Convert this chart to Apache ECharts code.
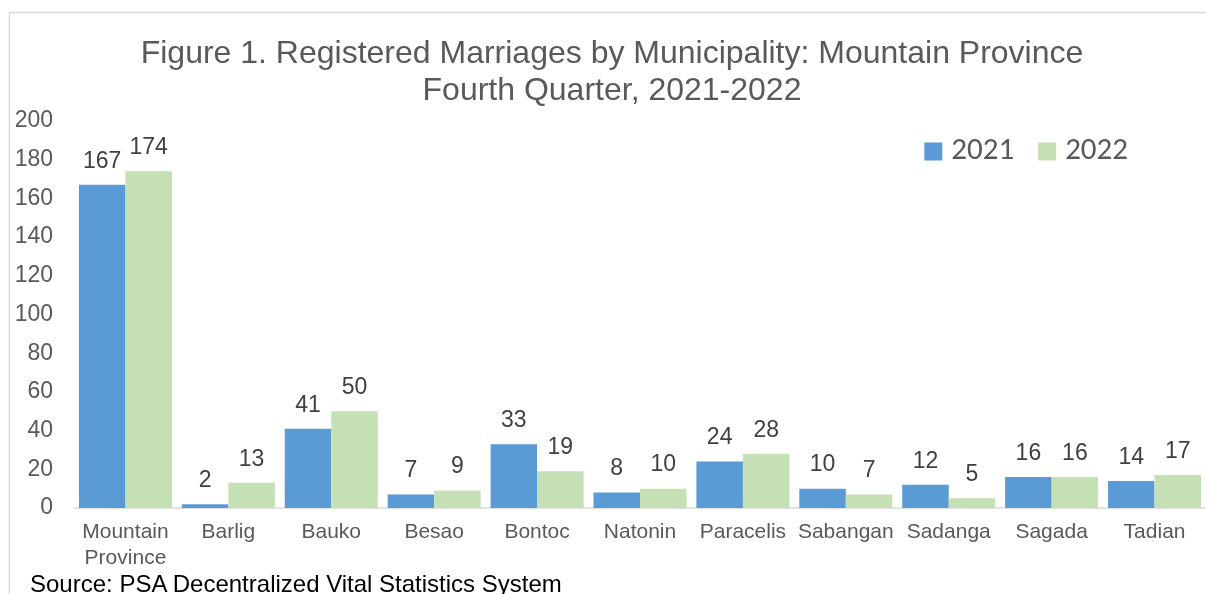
<!DOCTYPE html>
<html><head><meta charset="utf-8">
<script src="https://cdn.jsdelivr.net/npm/echarts@6/dist/echarts.min.js"></script>
<style>html,body{margin:0;padding:0;background:#fff}#c{width:1206px;height:594px}</style>
</head><body><div id="c"></div>
<script>
const categories = ['Mountain\nProvince','Barlig','Bauko','Besao','Bontoc','Natonin','Paracelis','Sabangan','Sadanga','Sagada','Tadian'];
const values2021 = [167,2,41,7,33,8,24,10,12,16,14];
const values2022 = [174,13,50,9,19,10,28,7,5,16,17];
const yTicks = {min:0,max:200,interval:20};
const titleLines = 'Figure 1. Registered Marriages by Municipality: Mountain Province\nFourth Quarter, 2021-2022';

const chart = echarts.init(document.getElementById('c'));
const lbl = {show:true,position:'top',distance:12,color:'#404040',fontSize:23,fontFamily:'Liberation Sans, Arial'};
chart.setOption({
  animation:false,
  graphic:[
    {type:'rect',shape:{x:9.5,y:12.5,width:1300,height:700},style:{fill:'none',stroke:'#d9d9d9',lineWidth:1.5}},
    {type:'text',x:612,y:36,style:{text:titleLines,align:'center',verticalAlign:'top',textAlign:'center',textVerticalAlign:'top',
      fontSize:32,lineHeight:37,fill:'#595959',fontFamily:'Liberation Sans, Arial'}}
  ],
  legend:{right:73,top:131,itemWidth:18,itemHeight:18,itemGap:24,icon:'rect',
    textStyle:{fontSize:31,color:'#595959',fontFamily:'Carlito, Lato, sans-serif',padding:[0,0,0,4]},data:['2021','2022']},
  grid:{left:74,width:1140,top:121,bottom:86,containLabel:false},
  xAxis:{type:'category',data:categories,axisTick:{show:false},
    axisLine:{lineStyle:{color:'#d9d9d9',width:1.5}},
    axisLabel:{color:'#595959',fontSize:21,fontFamily:'Liberation Sans, Arial',margin:11,lineHeight:26,interval:0}},
  yAxis:{type:'value',min:yTicks.min,max:yTicks.max,interval:yTicks.interval,splitLine:{show:false},
    axisLabel:{color:'#595959',fontSize:23,fontFamily:'Liberation Sans, Arial',margin:21}},
  series:[
    {name:'2021',type:'bar',data:values2021,barGap:'0%',barCategoryGap:'9.6%',itemStyle:{color:'#5b9bd5'},label:lbl},
    {name:'2022',type:'bar',data:values2022,itemStyle:{color:'#c5e0b4'},label:lbl}
  ]
});
</script>
<div style="position:absolute;left:30px;top:572px;font:24px/24px 'Liberation Sans',Arial;color:#000;white-space:nowrap">Source: PSA Decentralized Vital Statistics System</div>
</body></html>
